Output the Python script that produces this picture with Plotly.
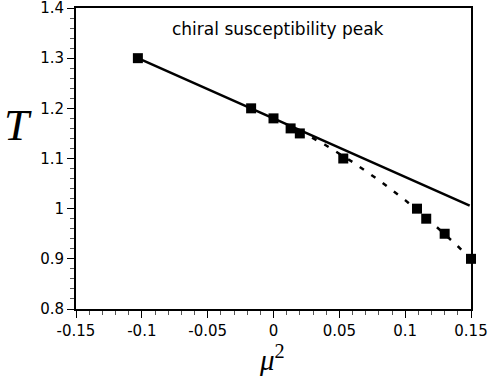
import plotly.graph_objects as go

# data
mu2_points = [-0.103, -0.017, 0.0, 0.013, 0.02, 0.053, 0.109, 0.116, 0.13, 0.15]
T_points = [1.30, 1.20, 1.18, 1.16, 1.15, 1.10, 1.00, 0.98, 0.95, 0.90]

solid_x = [-0.103, 0.149]
solid_y = [1.30, 1.006]

dash_x = [0.02, 0.04, 0.06, 0.08, 0.10, 0.12, 0.14, 0.15]
dash_y = [1.155, 1.126, 1.093, 1.057, 1.017, 0.973, 0.925, 0.90]

x_tickvals = [-0.15, -0.1, -0.05, 0, 0.05, 0.1, 0.15]
x_ticktext = ["-0.15", "-0.1", "-0.05", "0", "0.05", "0.1", "0.15"]
y_tickvals = [0.8, 0.9, 1.0, 1.1, 1.2, 1.3, 1.4]
y_ticktext = ["0.8", "0.9", "1", "1.1", "1.2", "1.3", "1.4"]

fig = go.Figure()
fig.add_trace(go.Scatter(x=solid_x, y=solid_y, mode="lines", cliponaxis=False,
                         line=dict(color="black", width=2.5), showlegend=False))
fig.add_trace(go.Scatter(x=dash_x, y=dash_y, mode="lines", cliponaxis=False,
                         line=dict(color="black", width=2.5, dash="5px,9px"),
                         showlegend=False))
fig.add_trace(go.Scatter(x=mu2_points, y=T_points, mode="markers", cliponaxis=False,
                         marker=dict(symbol="square", size=10, color="black"),
                         showlegend=False))

font_ticks = dict(family="DejaVu Sans, sans-serif", size=15, color="black")

common = dict(showgrid=False, zeroline=False, showline=True, linecolor="black",
              linewidth=2, mirror=True, ticks="outside", ticklen=7, tickwidth=1,
              tickcolor="black", tickfont=font_ticks, automargin=False,
              ticklabeloverflow="allow")

fig.update_layout(
    width=490, height=381,
    margin=dict(l=76, r=19, t=8, b=72),
    paper_bgcolor="white", plot_bgcolor="white",
    xaxis=dict(range=[-0.15, 0.15], tickvals=x_tickvals, ticktext=x_ticktext,
               minor=dict(dtick=0.01, ticks="outside", ticklen=4, tickwidth=1,
                          tickcolor="#555", showgrid=False), **common),
    yaxis=dict(range=[0.8, 1.4], tickvals=y_tickvals, ticktext=y_ticktext,
               minor=dict(dtick=0.02, ticks="outside", ticklen=4, tickwidth=1,
                          tickcolor="#555", showgrid=False), **common),
    annotations=[
        dict(text="chiral susceptibility peak", xref="paper", yref="paper",
             x=0.511, y=0.93, xanchor="center", yanchor="middle", showarrow=False,
             font=dict(family="DejaVu Sans, sans-serif", size=17, color="black")),
        dict(text="<i>T</i>", xref="paper", yref="paper", x=-0.148, y=0.611,
             xanchor="center", yanchor="middle", showarrow=False,
             font=dict(family="Liberation Serif, serif", size=45, color="black")),
        dict(text="<i>μ</i><sup>2</sup>", xref="paper", yref="paper", x=0.497, y=-0.163,
             xanchor="center", yanchor="middle", showarrow=False,
             font=dict(family="Liberation Serif, serif", size=29, color="black")),
    ],
)

fig.write_html("out.html", config={"displayModeBar": False},
               post_script="document.body.style.margin='0';")
